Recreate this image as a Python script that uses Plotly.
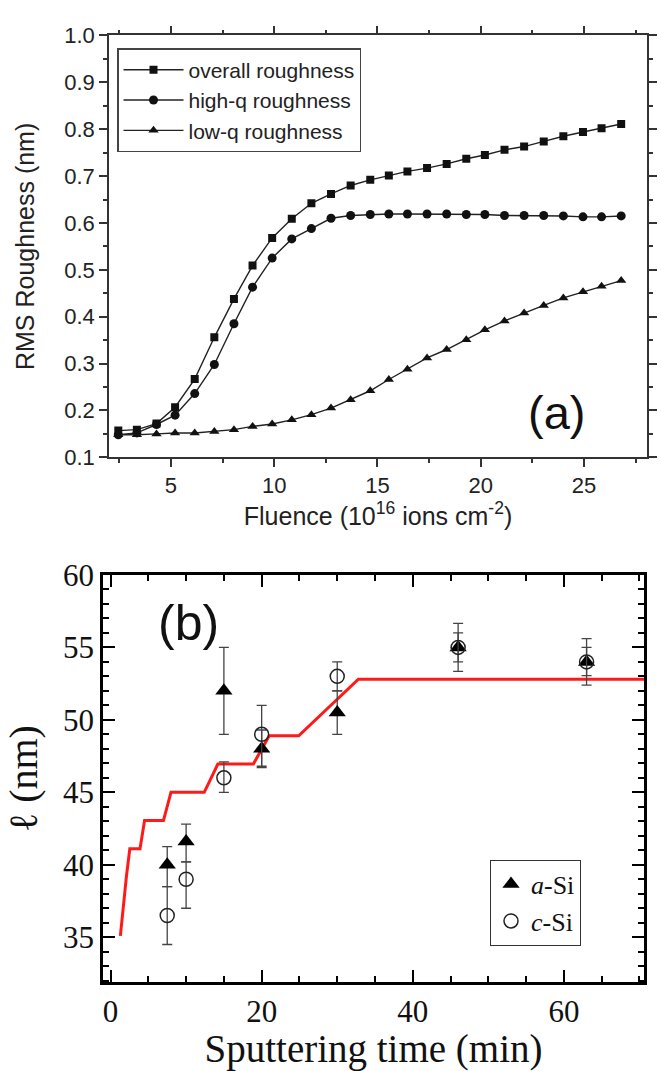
import plotly.graph_objects as go

# ---------------- Panel (a) data ----------------
fluence = [2.45, 3.35, 4.3, 5.2, 6.15, 7.1, 8.05, 8.95, 9.9, 10.85, 11.8, 12.75,
           13.7, 14.65, 15.55, 16.45, 17.4, 18.35, 19.3, 20.2, 21.15, 22.1, 23.05,
           24.0, 24.95, 25.85, 26.8]
overall = [0.157, 0.159, 0.172, 0.207, 0.267, 0.356, 0.438, 0.509, 0.568, 0.609,
           0.642, 0.662, 0.680, 0.692, 0.701, 0.710, 0.717, 0.726, 0.737, 0.745,
           0.756, 0.763, 0.774, 0.785, 0.794, 0.802, 0.811]
high_q = [0.148, 0.152, 0.170, 0.190, 0.236, 0.298, 0.385, 0.463, 0.525, 0.566,
          0.588, 0.610, 0.616, 0.618, 0.619, 0.619, 0.619, 0.619, 0.618, 0.618,
          0.616, 0.616, 0.616, 0.615, 0.613, 0.613, 0.615]
low_q = [0.148, 0.148, 0.150, 0.152, 0.152, 0.155, 0.159, 0.166, 0.171, 0.180,
         0.191, 0.205, 0.223, 0.242, 0.266, 0.288, 0.312, 0.330, 0.351, 0.372,
         0.391, 0.408, 0.424, 0.440, 0.453, 0.465, 0.477]

# ---------------- Panel (b) data ----------------
time_min = [7.5, 10, 15, 20, 30, 46, 63]
a_si = [40.0, 41.6, 52.0, 48.0, 50.5, 55.0, 54.0]
a_si_err_plus = [1.25, 1.2, 3.0, 1.3, 1.5, 1.65, 1.6]
a_si_err_minus = [1.5, 1.4, 3.0, 1.3, 1.5, 1.65, 1.6]
c_si = [36.5, 39.0, 46.0, 49.0, 53.0, 55.0, 54.0]
c_si_err_plus = [2.0, 1.2, 1.1, 2.0, 1.0, 1.0, 1.0]
c_si_err_minus = [2.0, 2.0, 1.0, 2.2, 1.0, 1.0, 0.95]

fit_time = [1.3, 1.65, 1.75, 2.0, 2.1, 2.55, 3.9, 4.5, 7.0, 8.0, 12.4, 14.2,
            18.9, 21.0, 24.9, 32.8, 70.6]
fit_len = [35.1, 37.0, 37.2, 39.0, 39.2, 41.1, 41.1, 43.05, 43.05, 45.0, 45.0,
           46.95, 46.95, 48.9, 48.9, 52.8, 52.8]

W, H = 661, 1071
SANS = "Liberation Sans, Arial, sans-serif"
SERIF = "Liberation Serif, Times New Roman, serif"

fig = go.Figure()

line_a = dict(color="#222", width=1.4)
fig.add_trace(go.Scatter(x=fluence, y=overall, mode="lines+markers", name="overall roughness",
                         line=line_a, marker=dict(symbol="square", size=8, color="#111"),
                         xaxis="x", yaxis="y", legend="legend"))
fig.add_trace(go.Scatter(x=fluence, y=high_q, mode="lines+markers", name="high-q roughness",
                         line=line_a, marker=dict(symbol="circle", size=9, color="#111"),
                         xaxis="x", yaxis="y", legend="legend"))
fig.add_trace(go.Scatter(x=fluence, y=low_q, mode="lines+markers", name="low-q roughness",
                         line=line_a, marker=dict(symbol="triangle-up", size=9, color="#111"),
                         xaxis="x", yaxis="y", legend="legend"))

fig.add_trace(go.Scatter(x=fit_time, y=fit_len, mode="lines", showlegend=False,
                         line=dict(color="#ff1a1a", width=3),
                         xaxis="x2", yaxis="y2"))
fig.add_trace(go.Scatter(x=time_min, y=a_si, mode="markers", name="<i>a</i>-Si",
                         marker=dict(symbol="triangle-up", size=15, color="#000"),
                         error_y=dict(type="data", symmetric=False, array=a_si_err_plus,
                                      arrayminus=a_si_err_minus, color="#444", thickness=1.3, width=5),
                         xaxis="x2", yaxis="y2", legend="legend2"))
fig.add_trace(go.Scatter(x=time_min, y=c_si, mode="markers", name="<i>c</i>-Si",
                         marker=dict(symbol="circle-open", size=14, color="#222", line=dict(width=1.5)),
                         error_y=dict(type="data", symmetric=False, array=c_si_err_plus,
                                      arrayminus=c_si_err_minus, color="#444", thickness=1.3, width=5),
                         xaxis="x2", yaxis="y2", legend="legend2"))

axis_a = dict(showgrid=False, zeroline=False, showline=True, linecolor="#333", linewidth=1.5,
              mirror="allticks", ticks="outside", ticklen=8, tickwidth=1.5, tickcolor="#333",
              tickfont=dict(family=SANS, size=22, color="#222"))
axis_b = dict(showgrid=False, zeroline=False, showline=True, linecolor="#000", linewidth=2.5,
              mirror="allticks", ticks="inside", ticklen=12, tickwidth=2, tickcolor="#000",
              tickfont=dict(family=SERIF, size=31, color="#111"))

fig.update_layout(
    width=W, height=H,
    margin=dict(l=0, r=0, t=0, b=0),
    paper_bgcolor="white", plot_bgcolor="white",
    xaxis=dict(axis_a, domain=[109 / W, 647 / W], anchor="y", range=[2.0, 28.05],
               tick0=0, dtick=5,
               minor=dict(dtick=2.5, tick0=0, ticks="outside", ticklen=4, tickwidth=1.5, tickcolor="#333"),
               title=dict(text="Fluence (10<sup>16</sup> ions cm<sup>-2</sup>)",
                          font=dict(family=SANS, size=25, color="#222"), standoff=6)),
    yaxis=dict(axis_a, domain=[1 - 453 / H, 1 - 19 / H], anchor="x", range=[0.1, 1.0],
               tick0=0, dtick=0.1, tickformat=".1f",
               minor=dict(dtick=0.05, tick0=0, ticks="outside", ticklen=4, tickwidth=1.5, tickcolor="#333"),
               title=dict(text="RMS Roughness (nm)",
                          font=dict(family=SANS, size=25, color="#222"), standoff=22)),
    xaxis2=dict(axis_b, domain=[103 / W, 644 / W], anchor="y2", range=[-1, 70.6],
                tick0=0, dtick=20,
                minor=dict(dtick=5, tick0=0, ticks="inside", ticklen=6, tickwidth=2, tickcolor="#000"),
                title=dict(text="Sputtering time (min)",
                           font=dict(family=SERIF, size=39, color="#111"), standoff=5)),
    yaxis2=dict(axis_b, domain=[1 - 993 / H, 1 - 574 / H], anchor="x2", range=[31.9, 60],
                tick0=0, dtick=5,
                minor=dict(dtick=1, tick0=0, ticks="inside", ticklen=6, tickwidth=2, tickcolor="#000"),
                title=dict(text="ℓ (nm)",
                           font=dict(family=SERIF, size=40, color="#111"), standoff=14)),
    legend=dict(x=117 / W, y=1 - 32 / H, xanchor="left", yanchor="top",
                bgcolor="white", bordercolor="#444", borderwidth=1.5,
                font=dict(family=SANS, size=21, color="#222"), tracegroupgap=0,
                itemwidth=60),
    legend2=dict(x=490 / W, y=1 - 867 / H, xanchor="left", yanchor="top",
                 bgcolor="white", bordercolor="#333", borderwidth=1,
                 font=dict(family=SERIF, size=26, color="#111"), tracegroupgap=0),
    annotations=[
        dict(text="(a)", x=587 / W, y=1 - 407 / H, xref="paper", yref="paper",
             showarrow=False, font=dict(family=SANS, size=47, color="#111")),
        dict(text="(b)", x=156 / W, y=1 - 623 / H, xref="paper", yref="paper",
             showarrow=False, font=dict(family=SANS, size=50, color="#111")),
    ],
)

fig.write_html("out.html")
